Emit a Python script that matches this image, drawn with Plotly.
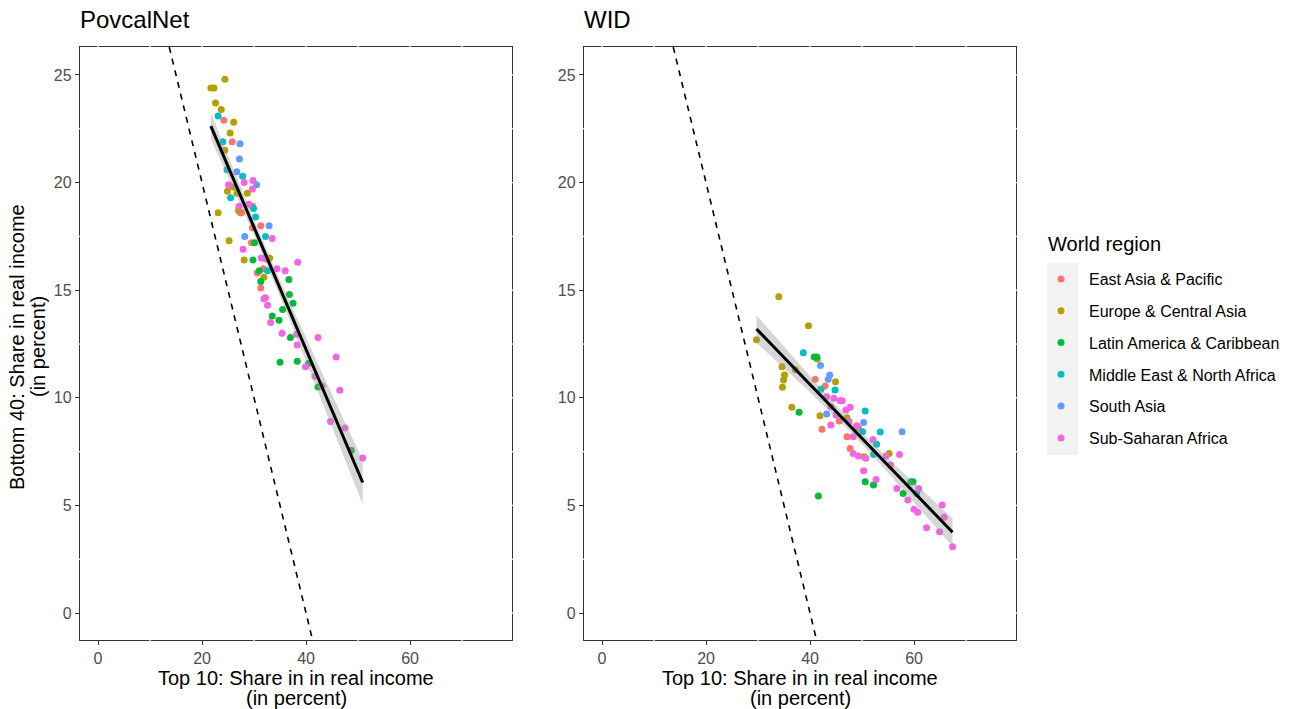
import numpy as np
import plotly.graph_objects as go

regions = ["East Asia & Pacific", "Europe & Central Asia", "Latin America & Caribbean",
           "Middle East & North Africa", "South Asia", "Sub-Saharan Africa"]
region_colors = ["#F8766D", "#B79F00", "#00BA38", "#00BFC4", "#619CFF", "#F564E3"]

# ---- PovcalNet: top-10 share (x) and bottom-40 share (y), per region ----
pov_eap_top10 = [24.2, 25.8, 27.4, 29.7, 31.3, 29.7, 29.5, 31.8, 31.3, 27.6, 30.6]
pov_eap_bot40 = [22.9, 21.9, 18.6, 18.9, 18.0, 17.9, 17.2, 16.0, 15.1, 18.6, 15.8]
pov_eca_top10 = [24.4, 21.7, 22.3, 22.6, 23.7, 26.1, 25.4, 24.4, 24.9, 26.7, 28.7, 23.1, 25.2,
                 28.1, 33.0, 31.9, 27.0, 26.0]
pov_eca_bot40 = [24.8, 24.4, 24.4, 23.7, 23.4, 22.8, 22.3, 21.5, 19.6, 19.5, 19.5, 18.6, 17.3,
                 16.4, 16.5, 15.6, 18.7, 19.8]
pov_lac_top10 = [30.1, 29.8, 36.7, 31.3, 36.8, 37.5, 35.5, 33.5, 34.8, 37.0, 35.0, 38.3, 40.5,
                 42.3, 48.7, 31.0]
pov_lac_bot40 = [17.2, 16.4, 15.5, 15.4, 14.8, 14.4, 14.1, 13.8, 13.6, 12.8, 11.65, 11.7, 11.6,
                 10.5, 7.55, 15.9]
pov_mena_top10 = [23.1, 24.0, 24.8, 27.8, 25.5, 29.9, 30.3, 32.2, 32.6]
pov_mena_bot40 = [23.1, 21.9, 20.6, 20.3, 19.3, 18.8, 18.4, 17.5, 15.9]
pov_sa_top10 = [27.3, 27.2, 26.7, 30.5, 32.9, 28.2]
pov_sa_bot40 = [21.8, 21.1, 20.5, 19.9, 18.0, 17.5]
pov_ssa_top10 = [25.1, 28.1, 29.8, 29.7, 27.1, 29.0, 33.5, 27.9, 31.4, 32.3, 34.4, 36.0, 38.4,
                 32.2, 32.6, 33.2, 35.4, 38.2, 42.3, 38.3, 45.8, 39.9, 41.7, 43.1, 46.5, 44.7,
                 47.5, 50.9, 31.9]
pov_ssa_bot40 = [19.9, 20.0, 20.1, 19.7, 18.9, 19.0, 17.4, 16.9, 16.5, 16.45, 16.0, 15.9, 16.3,
                 14.65, 14.3, 13.5, 13.0, 12.95, 12.8, 12.45, 11.9, 11.45, 11.0, 10.55, 10.35, 8.9,
                 8.6, 7.2, 14.6]

# ---- WID: top-10 share (x) and bottom-40 share (y), per region ----
wid_eap_top10 = [41.0, 42.9, 42.3, 45.6, 49.3, 47.1, 47.7, 49.0]
wid_eap_bot40 = [10.86, 10.55, 8.54, 8.92, 8.6, 8.19, 7.65, 8.7]
wid_eca_top10 = [34.0, 39.7, 29.7, 41.4, 34.6, 37.2, 35.1, 34.9, 34.7, 44.9, 36.5, 41.9, 47.1,
                 50.4, 55.2]
wid_eca_bot40 = [14.7, 13.35, 12.7, 11.8, 11.45, 11.3, 11.06, 10.83, 10.49, 10.75, 9.56, 9.17,
                 9.08, 7.26, 7.42]
wid_lac_top10 = [40.8, 41.3, 37.9, 50.6, 52.2, 41.6, 59.4, 59.8, 57.9]
wid_lac_bot40 = [11.9, 11.9, 9.33, 6.1, 5.95, 5.44, 6.1, 6.1, 5.56]
wid_mena_top10 = [38.7, 42.1, 44.8, 50.6, 50.1, 53.5, 52.8, 52.2, 60.5]
wid_mena_bot40 = [12.1, 10.4, 10.36, 9.39, 8.42, 8.41, 7.85, 7.37, 5.56]
wid_sa_top10 = [42.0, 43.8, 43.5, 43.2, 50.3, 57.7]
wid_sa_bot40 = [11.5, 11.06, 10.86, 9.25, 8.86, 8.42]
wid_ssa_top10 = [43.2, 44.6, 45.8, 46.2, 47.7, 46.9, 44.0, 49.0, 44.0, 48.3, 52.1, 48.3, 49.3,
                 57.2, 50.7, 54.6, 55.5, 50.3, 52.7, 56.7, 60.9, 58.8, 60.0, 60.7, 65.4, 65.8,
                 62.4, 64.9, 67.4, 45.0, 47.5]
wid_ssa_bot40 = [10.05, 9.98, 9.87, 9.87, 9.56, 9.43, 9.59, 8.66, 8.74, 8.19, 8.07, 7.42, 7.3,
                 7.37, 7.19, 7.3, 6.88, 6.61, 6.21, 5.79, 5.79, 5.25, 4.83, 4.68, 5.02, 4.45,
                 3.96, 3.78, 3.08, 9.2, 8.9]

# Reference line: bottom 40 share = 40 - top 10 share
ref_intercept = 40.0
ref_slope = -1.0

x_ticks = [0, 20, 40, 60]
y_ticks = [0, 5, 10, 15, 20, 25]
x_grid = [0, 10, 20, 30, 40, 50, 60, 70]
y_grid = [0, 2.5, 5, 7.5, 10, 12.5, 15, 17.5, 20, 22.5, 25]
x_range = [-3.46, 79.6]
y_range = [-1.25, 26.3]

panels = [
    ("PovcalNet", "x", "y",
     [(pov_eap_top10, pov_eap_bot40), (pov_eca_top10, pov_eca_bot40),
      (pov_lac_top10, pov_lac_bot40), (pov_mena_top10, pov_mena_bot40),
      (pov_sa_top10, pov_sa_bot40), (pov_ssa_top10, pov_ssa_bot40)]),
    ("WID", "x2", "y2",
     [(wid_eap_top10, wid_eap_bot40), (wid_eca_top10, wid_eca_bot40),
      (wid_lac_top10, wid_lac_bot40), (wid_mena_top10, wid_mena_bot40),
      (wid_sa_top10, wid_sa_bot40), (wid_ssa_top10, wid_ssa_bot40)]),
]

W, H = 1293, 709
FONT = "Liberation Sans, Arial, sans-serif"


def px_x(p):
    return p / W


def px_y(p):
    return 1 - p / H


fig = go.Figure()

for pi, (name, xa, ya, series) in enumerate(panels):
    # points
    for ri, (xs, ys) in enumerate(series):
        fig.add_trace(go.Scatter(
            x=xs, y=ys, mode="markers", xaxis=xa, yaxis=ya,
            marker=dict(color=region_colors[ri], size=7, line=dict(width=0)),
            name=regions[ri], legendgroup=regions[ri], showlegend=(pi == 0),
            hoverinfo="x+y+name"))

    # linear fit with 95% confidence band
    allx = np.concatenate([np.asarray(s[0], float) for s in series])
    ally = np.concatenate([np.asarray(s[1], float) for s in series])
    b1, b0 = np.polyfit(allx, ally, 1)
    n = len(allx)
    resid = ally - (b0 + b1 * allx)
    s_err = np.sqrt(np.sum(resid ** 2) / (n - 2))
    xbar = allx.mean()
    sxx = np.sum((allx - xbar) ** 2)
    xg = np.linspace(allx.min(), allx.max(), 80)
    yg = b0 + b1 * xg
    se = s_err * np.sqrt(1.0 / n + (xg - xbar) ** 2 / sxx)
    tq = 1.98
    fig.add_trace(go.Scatter(
        x=np.concatenate([xg, xg[::-1]]),
        y=np.concatenate([yg + tq * se, (yg - tq * se)[::-1]]),
        fill="toself", fillcolor="rgba(153,153,153,0.4)", line=dict(width=0),
        mode="lines", xaxis=xa, yaxis=ya, showlegend=False, hoverinfo="skip"))
    fig.add_trace(go.Scatter(
        x=xg, y=yg, mode="lines", xaxis=xa, yaxis=ya,
        line=dict(color="black", width=3), showlegend=False, hoverinfo="skip"))

    # dashed reference line across the whole panel
    x_top = (y_range[1] - ref_intercept) / ref_slope
    x_bot = (y_range[0] - ref_intercept) / ref_slope
    fig.add_trace(go.Scatter(
        x=[x_top, x_bot], y=[y_range[1], y_range[0]], mode="lines",
        xaxis=xa, yaxis=ya, line=dict(color="black", width=1.6, dash="6px,6px"),
        showlegend=False, hoverinfo="skip"))

axis_common = dict(
    showgrid=False, zeroline=False, showline=True, mirror=True,
    linecolor="#333333", linewidth=1.3, ticks="outside", ticklen=4,
    tickcolor="#333333", tickwidth=1.1,
    tickfont=dict(family=FONT, size=16, color="#4D4D4D"),
)

left_dom = [px_x(80), px_x(512)]
right_dom = [px_x(584), px_x(1016)]
y_dom = [px_y(640), px_y(47)]

fig.update_layout(
    width=W, height=H,
    margin=dict(l=0, r=0, t=0, b=0),
    paper_bgcolor="white", plot_bgcolor="white",
    font=dict(family=FONT, color="black"),
    xaxis=dict(domain=left_dom, range=x_range, tickvals=x_ticks, anchor="y", **axis_common),
    yaxis=dict(domain=y_dom, range=y_range, tickvals=y_ticks, anchor="x", **axis_common),
    xaxis2=dict(domain=right_dom, range=x_range, tickvals=x_ticks, anchor="y2", **axis_common),
    yaxis2=dict(domain=y_dom, range=y_range, tickvals=y_ticks, anchor="x2", **axis_common),
    legend=dict(
        font=dict(family=FONT, size=16, color="black"),
        x=px_x(1033), y=px_y(262), xanchor="left", yanchor="top",
        bgcolor="rgba(0,0,0,0)", tracegroupgap=8, itemwidth=46,
    ),
    showlegend=True,
)

# grey background behind legend keys
fig.add_shape(type="rect", xref="paper", yref="paper",
              x0=px_x(1047), x1=px_x(1078), y0=px_y(455), y1=px_y(263),
              fillcolor="#F2F2F2", line=dict(width=0), layer="below")

# white grid lines crossing the panel borders
for xa, ya, dom_x in [("x", "y", left_dom), ("x2", "y2", right_dom)]:
    for v in x_grid:
        ends = [(y_dom[1] - 1.5 / H, y_dom[1] + 1.5 / H)]
        if v not in x_ticks:
            ends.append((y_dom[0] - 1.5 / H, y_dom[0] + 1.5 / H))
        for a, b in ends:
            fig.add_shape(type="line", xref=xa, yref="paper", x0=v, x1=v, y0=a, y1=b,
                          line=dict(color="white", width=1.3), layer="above")
    for v in y_grid:
        ends = [(dom_x[1] - 1.5 / W, dom_x[1] + 1.5 / W)]
        if v not in y_ticks:
            ends.append((dom_x[0] - 1.5 / W, dom_x[0] + 1.5 / W))
        for a, b in ends:
            fig.add_shape(type="line", xref="paper", yref=ya, x0=a, x1=b, y0=v, y1=v,
                          line=dict(color="white", width=1.3), layer="above")

ann = []
for title, xl, xc in [("PovcalNet", 80, 296), ("WID", 584, 800)]:
    ann.append(dict(text=title, x=px_x(xl - 2), y=px_y(20), xref="paper", yref="paper",
                    xanchor="left", yanchor="middle", showarrow=False,
                    font=dict(family=FONT, size=24, color="black")))
    ann.append(dict(text="Top 10: Share in in real income", x=px_x(xc), y=px_y(678),
                    xref="paper", yref="paper", xanchor="center", yanchor="middle",
                    showarrow=False, font=dict(family=FONT, size=20, color="black")))
    ann.append(dict(text="(in percent)", x=px_x(xc), y=px_y(698),
                    xref="paper", yref="paper", xanchor="center", yanchor="middle",
                    showarrow=False, font=dict(family=FONT, size=20, color="black")))
ann.append(dict(text="Bottom 40: Share in real income", x=px_x(17), y=px_y(347),
                xref="paper", yref="paper", xanchor="center", yanchor="middle",
                textangle=-90, showarrow=False, font=dict(family=FONT, size=20, color="black")))
ann.append(dict(text="(in percent)", x=px_x(38), y=px_y(347),
                xref="paper", yref="paper", xanchor="center", yanchor="middle",
                textangle=-90, showarrow=False, font=dict(family=FONT, size=20, color="black")))
ann.append(dict(text="World region", x=px_x(1046), y=px_y(244), xref="paper", yref="paper",
                xanchor="left", yanchor="middle", showarrow=False,
                font=dict(family=FONT, size=20, color="black")))
fig.update_layout(annotations=ann)

fig.write_html("out.html")
